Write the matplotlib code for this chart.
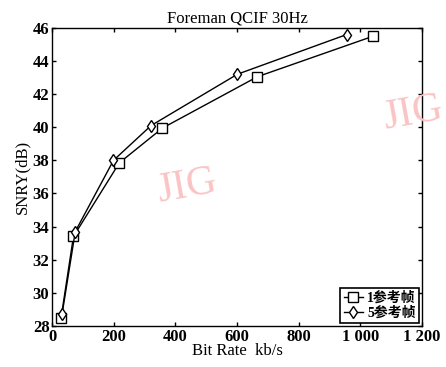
import matplotlib
matplotlib.use("Agg")
import matplotlib.pyplot as plt

plt.rcParams["font.family"] = ["Liberation Serif", "Noto Sans CJK SC"]
plt.rcParams["xtick.direction"] = "in"
plt.rcParams["ytick.direction"] = "in"

# 1 reference frame
rate_1ref = [29, 69, 218, 358, 666, 1042]
snr_1ref = [28.5, 33.4, 37.85, 39.95, 43.05, 45.5]
# 5 reference frames
rate_5ref = [32, 75, 199, 321, 601, 956]
snr_5ref = [28.7, 33.7, 38.0, 40.1, 43.2, 45.6]

x_ticks = [0, 200, 400, 600, 800, 1000, 1200]
x_labels = ["0", "200", "400", "600", "800", "1 000", "1 200"]
y_ticks = [28, 30, 32, 34, 36, 38, 40, 42, 44, 46]

fig = plt.figure(figsize=(4.46, 3.67), dpi=100)
ax = fig.add_axes([0.117, 0.112, 0.829, 0.812])

ax.plot(rate_1ref, snr_1ref, color="black", lw=1.0, marker="s", ms=6.5,
        mfc="white", mec="black", mew=1.0, label="1参考帧")
ax.plot(rate_5ref, snr_5ref, color="black", lw=1.0, marker="d", ms=6,
        mfc="white", mec="black", mew=1.0, label="5参考帧")

ax.set_xlim(0, 1200)
ax.set_ylim(28, 46)
ax.set_xticks(x_ticks)
ax.set_xticklabels(x_labels)
ax.set_yticks(y_ticks)
ax.tick_params(top=True, right=True, labelsize=12, length=3, width=1, pad=2)
for lbl in ax.get_xticklabels() + ax.get_yticklabels():
    lbl.set_fontweight("bold")
for sp in ax.spines.values():
    sp.set_linewidth(1.0)

ax.set_title("Foreman QCIF 30Hz", fontsize=12, pad=4)
ax.set_xlabel("Bit Rate  kb/s", fontsize=12, labelpad=-1)
ax.set_ylabel("SNRY(dB)", fontsize=12, labelpad=2)

leg = ax.legend(loc="lower right", frameon=True, fancybox=False,
                edgecolor="black", framealpha=1, borderpad=0.25,
                handlelength=1.4, handletextpad=0.3, labelspacing=0.1,
                borderaxespad=0.2, prop={"weight": "bold", "size": 10})
leg.get_frame().set_linewidth(1.2)

# watermarks
fig.text(0.42, 0.49, "JIG", color="#fbc4c4", fontsize=30, rotation=10,
         ha="center", va="center", family="Liberation Serif")
fig.text(0.925, 0.69, "JIG", color="#fbc4c4", fontsize=30, rotation=10,
         ha="center", va="center", family="Liberation Serif")

fig.savefig("out.png", dpi=100)
